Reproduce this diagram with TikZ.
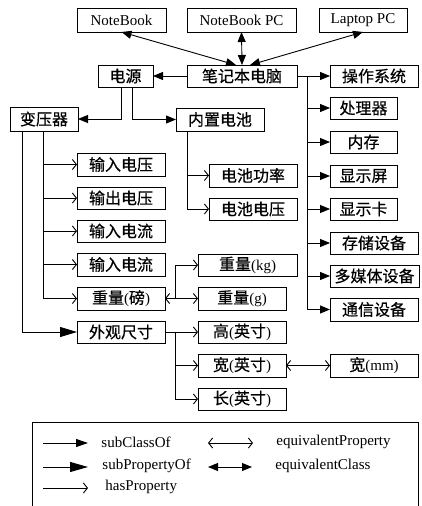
\documentclass[tikz,border=0pt]{standalone}
\usepackage{fontspec}
\setmainfont{Liberation Serif}
\newfontfamily\cjk[FakeBold=0.5]{Noto Sans CJK SC}
\usetikzlibrary{arrows.meta}
\newcommand\zh[1]{{\cjk\fontsize{16}{18}\selectfont #1}}
\newcommand\bx[6]{\node[box,minimum width={#4-#2},minimum height={#5-#3}] (#1) at ({(#2+#4)/2},{(#3+#5)/2}) {#6};}
\begin{document}
\begin{tikzpicture}[x=1pt,y=-1pt,line width=0.9pt,
  box/.style={draw,inner sep=0pt,outer sep=0pt,font=\fontsize{15}{17}\selectfont},
  lgtext/.style={anchor=west,inner sep=0pt,font=\fontsize{15}{17}\selectfont},
  subcls/.style={-{Triangle[length=10pt,width=8pt]}},
  subprop/.style={-{Triangle[length=17pt,width=10pt]}},
  hasp/.style={-{Straight Barb[length=4pt,width=10pt]}},
  eqp/.style={{Straight Barb[length=4pt,width=10pt]}-{Straight Barb[length=4pt,width=10pt]}},
  eqc/.style={{Triangle[length=10pt,width=8pt]}-{Triangle[length=10pt,width=8pt]}}]
\useasboundingbox (0,0) rectangle (422,506);
% boxes
\bx{nb}{77}{8}{166}{32}{NoteBook}
\bx{nbpc}{187}{8}{296}{32}{NoteBook PC}
\bx{lpc}{319}{8}{407}{32}{Laptop PC}
\bx{pw}{98}{65}{153}{87}{\zh{电源}}
\bx{lap}{187}{65}{297}{87}{\zh{笔记本电脑}}
\bx{os}{330}{65}{418}{87}{\zh{操作系统}}
\bx{cpu}{330}{97}{397}{119}{\zh{处理器}}
\bx{tr}{10}{107}{78}{131}{\zh{变压器}}
\bx{bat}{176}{108}{264}{131}{\zh{内置电池}}
\bx{mem}{330}{131}{397}{153}{\zh{内存}}
\bx{scr}{330}{165}{397}{187}{\zh{显示屏}}
\bx{gpu}{330}{198}{397}{220}{\zh{显示卡}}
\bx{sto}{330}{232}{418}{254}{\zh{存储设备}}
\bx{mmd}{330}{265}{419}{287}{\zh{多媒体设备}}
\bx{com}{330}{298}{418}{321}{\zh{通信设备}}
\bx{iv}{77}{153}{165}{176}{\zh{输入电压}}
\bx{ov}{77}{187}{165}{209}{\zh{输出电压}}
\bx{icA}{77}{220}{165}{242}{\zh{输入电流}}
\bx{icB}{77}{253}{165}{276}{\zh{输入电流}}
\bx{wlb}{77}{287}{165}{310}{\zh{重量}(\zh{磅})}
\bx{dim}{77}{321}{165}{343}{\zh{外观尺寸}}
\bx{bp}{209}{164}{297}{187}{\zh{电池功率}}
\bx{bv}{209}{198}{297}{220}{\zh{电池电压}}
\bx{wkg}{198}{254}{297}{276}{\zh{重量}(kg)}
\bx{wg}{198}{287}{286}{310}{\zh{重量}(g)}
\bx{hh}{198}{321}{286}{343}{\zh{高}(\zh{英寸})}
\bx{ww}{198}{354}{286}{377}{\zh{宽}(\zh{英寸})}
\bx{wmm}{330}{354}{418}{377}{\zh{宽}(mm)}
\bx{ll}{198}{388}{286}{410}{\zh{长}(\zh{英寸})}
% equivalentClass
\draw[eqc] ([xshift=-6pt]lap.north) -- (nb.south);
\draw[eqc] (lap.north) -- (nbpc.south);
\draw[eqc] ([xshift=8pt]lap.north) -- (lpc.south);
% subClassOf
\draw[subcls] (lap.west) -- (pw.east);
\coordinate (rt) at ([xshift=10pt]lap.east);
\draw[subcls] (lap.east) -- (os.west);
\draw[subcls] (rt) |- (com.west);
\foreach \n in {cpu,mem,scr,gpu,sto,mmd}{\draw[subcls] (rt |- \n.west) -- (\n.west);}
\draw[subcls] ([xshift=-4.5pt]pw.south) |- (tr.east);
\draw[subcls] ([xshift=6.5pt]pw.south) |- (bat.west);
% transformer properties
\coordinate (tA) at ([xshift=-1pt]tr.south);
\draw[hasp] (tA) |- (wlb.west);
\foreach \n in {iv,ov,icA,icB}{\draw[hasp] (tA |- \n.west) -- (\n.west);}
\draw[subprop] ([xshift=-22pt]tr.south) |- (dim.west);
% battery properties
\coordinate (bA) at ([xshift=-33pt]bat.south);
\draw[hasp] (bA) |- (bv.west);
\draw[hasp] (bA |- bp.west) -- (bp.west);
% weight
\coordinate (wA) at ([xshift=10pt]wlb.east);
\draw[eqp] (wlb.east) -- (wg.west);
\draw[hasp] (wA) |- (wkg.west);
% dimensions
\coordinate (dA) at ([xshift=10pt]dim.east);
\draw[hasp] (dim.east) -- (hh.west);
\draw[hasp] (dA) |- (ww.west);
\draw[hasp] (dA) |- (ll.west);
\draw[eqp] (ww.east) -- (wmm.west);
% legend
\draw (32,422) rectangle (418,515);
\coordinate (la1) at (43,443); \coordinate (lb1) at (88,443);
\coordinate (la2) at (43,467); \coordinate (lb2) at (88,467);
\coordinate (la3) at (43,488); \coordinate (lb3) at (88,488);
\coordinate (lc1) at (208,443); \coordinate (ld1) at (253,443);
\coordinate (lc2) at (208,467); \coordinate (ld2) at (252,467);
\draw[-{Triangle[length=12pt,width=8pt]}] (la1) -- (lb1);
\draw[-{Triangle[length=18pt,width=10pt]}] (la2) -- (lb2);
\draw[hasp] (la3) -- (lb3);
\draw[eqp] (lc1) -- (ld1);
\draw[eqc] (lc2) -- (ld2);
\node[lgtext] (t1) at (101,442) {subClassOf};
\node[lgtext] (t2) at (102,466) {subPropertyOf};
\node[lgtext] (t3) at (105,487) {hasProperty};
\node[lgtext] (t4) at (276,442) {equivalentProperty};
\node[lgtext] (t5) at (275,466) {equivalentClass};
\end{tikzpicture}
\end{document}
